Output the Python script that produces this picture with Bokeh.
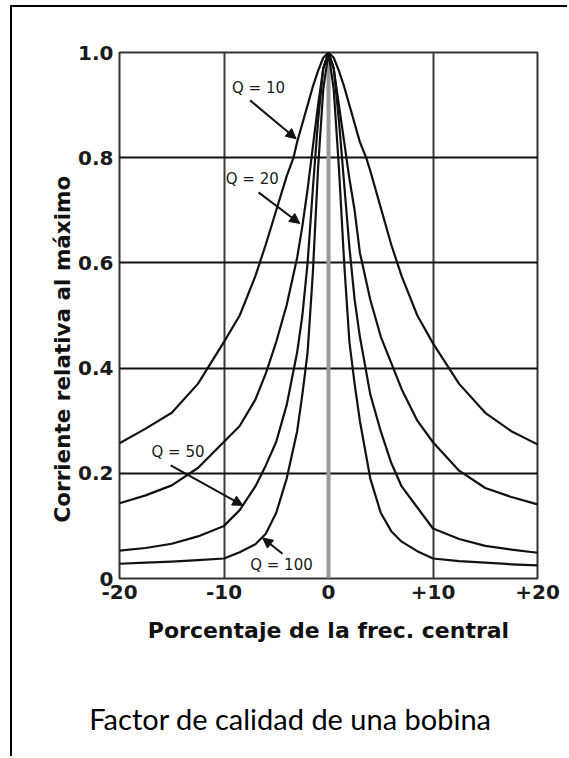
from bokeh.plotting import figure
from bokeh.models import Range1d, FixedTicker, Arrow, NormalHead, Label, Span, Title, LinearAxis
from bokeh.embed import file_html
from bokeh.resources import INLINE

# ---- data ----
q10_x = [-20, -17.5, -15, -12.5, -10, -8.5, -7, -6, -5, -4, -3.35, -3, -2.5, -2, -1.5, -1, -0.5, 0,
         0.5, 1, 1.5, 2, 2.5, 3, 3.6, 4, 5, 6, 7, 8.5, 10, 12.5, 15, 17.5, 20]
q10_y = [0.257, 0.285, 0.315, 0.37, 0.45, 0.50, 0.575, 0.635, 0.70, 0.765, 0.80, 0.83, 0.865, 0.90, 0.935, 0.965, 0.99, 1.0,
         0.99, 0.965, 0.935, 0.90, 0.865, 0.83, 0.80, 0.775, 0.705, 0.635, 0.575, 0.50, 0.447, 0.37, 0.315, 0.28, 0.255]

q20_x = [-20, -17.5, -15, -12.5, -10, -8.5, -7, -6, -5, -4, -3, -2.5, -2, -1.5, -1, -0.5, 0,
         0.5, 1, 1.5, 2, 2.5, 3, 4, 5, 6, 7, 8.5, 10, 12.5, 15, 17.5, 20]
q20_y = [0.143, 0.158, 0.177, 0.21, 0.26, 0.29, 0.34, 0.39, 0.45, 0.52, 0.61, 0.67, 0.74, 0.82, 0.90, 0.97, 1.0,
         0.97, 0.90, 0.83, 0.76, 0.70, 0.62, 0.53, 0.46, 0.41, 0.36, 0.30, 0.259, 0.205, 0.172, 0.155, 0.141]

q50_x = [-20, -17.5, -15, -12.5, -10, -8.5, -7, -6, -5, -4, -3, -2.5, -2, -1.5, -1, -0.5, 0,
         0.5, 1, 1.5, 2, 2.5, 3, 4, 5, 6, 7, 8.5, 10, 12.5, 15, 17.5, 20]
q50_y = [0.053, 0.058, 0.066, 0.08, 0.10, 0.13, 0.175, 0.215, 0.26, 0.33, 0.43, 0.50, 0.60, 0.74, 0.87, 0.97, 1.0,
         0.97, 0.87, 0.75, 0.63, 0.53, 0.46, 0.35, 0.28, 0.22, 0.175, 0.135, 0.095, 0.075, 0.062, 0.055, 0.049]

q100_x = [-20, -17.5, -15, -12.5, -10, -8.5, -7, -6, -5, -4, -3, -2.5, -2, -1.5, -1, -0.5, 0,
          0.5, 1, 1.5, 2, 2.5, 3, 4, 5, 6, 7, 8.5, 10, 12.5, 15, 17.5, 20]
q100_y = [0.028, 0.030, 0.032, 0.035, 0.038, 0.05, 0.065, 0.085, 0.125, 0.19, 0.28, 0.35, 0.43, 0.58, 0.78, 0.93, 1.0,
          0.93, 0.78, 0.60, 0.45, 0.37, 0.30, 0.19, 0.125, 0.09, 0.07, 0.052, 0.038, 0.033, 0.030, 0.027, 0.025]

x_ticks = [-20, -10, 0, 10, 20]
x_tick_labels = ["-20", "-10", "0", "+10", "+20"]
y_ticks = [0, 0.2, 0.4, 0.6, 0.8, 1.0]
y_tick_labels = ["0", "0.2", "0.4", "0.6", "0.8", "1.0"]

curve_labels = ["Q = 10", "Q = 20", "Q = 50", "Q = 100"]
label_x = [-6.7, -7.3, -14.4, -4.5]
label_y = [0.933, 0.76, 0.24, 0.025]
arrow_start_x = [-7.5, -6.7, -15.1, -4.4]
arrow_start_y = [0.909, 0.734, 0.215, 0.047]
arrow_end_x = [-3.1, -2.75, -8.2, -6.3]
arrow_end_y = [0.836, 0.675, 0.139, 0.077]

x_title = "Porcentaje de la frec. central"
y_title = "Corriente relativa al máximo"
caption = "Factor de calidad de una bobina"
caption_at = -3.64   # x position (data units) of the caption centre

# ---- figure ----
p = figure(width=557, height=751, x_range=Range1d(-20, 20), y_range=Range1d(0, 1),
           output_backend="svg", toolbar_location=None,
           min_border_left=107, min_border_right=32, min_border_top=45, min_border_bottom=180)
p.styles = {"margin-left": "10px", "margin-top": "5px",
            "border-left": "2px solid #000000", "border-top": "2px solid #000000"}
p.background_fill_color = "white"
p.border_fill_color = "white"
p.outline_line_color = "#333333"
p.outline_line_width = 2

p.xaxis.ticker = FixedTicker(ticks=x_ticks)
p.yaxis.ticker = FixedTicker(ticks=y_ticks)
p.xaxis.major_label_overrides = {t: l for t, l in zip(x_ticks, x_tick_labels)}
p.yaxis.major_label_overrides = {t: l for t, l in zip(y_ticks, y_tick_labels)}
for ax in (p.xaxis, p.yaxis):
    ax.axis_line_color = None
    ax.major_tick_line_color = None
    ax.minor_tick_line_color = None
    ax.major_tick_out = 0
    ax.major_tick_in = 0
    ax.major_label_text_font = "DejaVu Sans"
    ax.major_label_text_font_style = "bold"
    ax.major_label_text_font_size = "20px"
    ax.major_label_text_color = "#1a1a1a"
    ax.axis_label_text_font = "DejaVu Sans"
    ax.axis_label_text_font_style = "bold"
    ax.axis_label_text_font_size = "22px"
    ax.axis_label_text_color = "#111111"
p.xaxis.major_label_standoff = 6
p.yaxis.major_label_standoff = 6
p.xaxis.axis_label = x_title
p.xaxis.axis_label_standoff = 16

# y title placed lower than centre, as in the reference
p.add_layout(Title(text=y_title, align="left", offset=56, standoff=2,
                   text_font="DejaVu Sans", text_font_style="bold", text_font_size="21.5px",
                   text_color="#111111"), "left")

# caption below the chart, carried by an invisible axis
cap_axis = LinearAxis(ticker=FixedTicker(ticks=[caption_at]), major_label_overrides={caption_at: caption},
                      axis_line_color=None, major_tick_line_color=None, minor_tick_line_color=None,
                      major_tick_in=0, major_tick_out=0, major_label_standoff=55,
                      major_label_text_font="Lato", major_label_text_font_size="29px",
                      major_label_text_font_style="normal", major_label_text_color="#000000")
p.add_layout(cap_axis, "below")

p.xgrid.grid_line_color = "#3a3a3a"
p.xgrid.grid_line_width = 2
p.ygrid.grid_line_color = "#111111"
p.ygrid.grid_line_width = 2

p.add_layout(Span(location=0, dimension="height", line_color="#9a9a9a", line_width=4, level="underlay"))

for xs, ys in ((q10_x, q10_y), (q20_x, q20_y), (q50_x, q50_y), (q100_x, q100_y)):
    p.line(xs, ys, line_color="#111111", line_width=2.2, line_join="round")

for i, txt in enumerate(curve_labels):
    p.add_layout(Label(x=label_x[i], y=label_y[i], text=txt, text_align="center", text_baseline="middle",
                       text_font="DejaVu Sans", text_font_size="15px", text_color="#1a1a1a"))
    p.add_layout(Arrow(x_start=arrow_start_x[i], y_start=arrow_start_y[i],
                       x_end=arrow_end_x[i], y_end=arrow_end_y[i],
                       line_color="#111111", line_width=2,
                       end=NormalHead(size=10, fill_color="#111111", line_color="#111111")))

open("out.html", "w").write(file_html(p, INLINE))
